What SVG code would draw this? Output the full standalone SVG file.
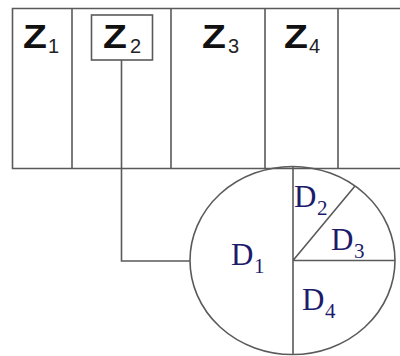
<svg xmlns="http://www.w3.org/2000/svg" width="400" height="356" viewBox="0 0 400 356">
<style>
.ln{stroke:#5a5a5a;stroke-width:1.6;fill:none}
.z{font-family:"Liberation Sans",Arial,sans-serif;font-weight:bold;font-size:34px;fill:#111}
.zs{font-family:"Liberation Sans",Arial,sans-serif;font-size:20px;fill:#222}
.d{font-family:"Liberation Serif","Times New Roman",serif;font-size:31px;fill:#1c1c6b}
.ds{font-family:"Liberation Serif","Times New Roman",serif;font-size:21px;fill:#1c1c6b}
</style>
<rect width="400" height="356" fill="#fff"/>
<g id="zones">
<path class="ln" d="M400 8.5H12.5V168.5H400"/>
<path class="ln" d="M72 8.5V168.5M171 8.5V168.5M265 8.5V168.5M338 8.5V168.5"/>
</g>
<g id="z1"><text class="z" transform="translate(23 48) scale(1.15 1)">Z</text><text class="zs" x="48" y="53">1</text></g>
<g id="z2"><rect class="ln" x="91.5" y="15" width="61" height="45"/><text class="z" transform="translate(103 48) scale(1.15 1)">Z</text><text class="zs" x="130" y="53">2</text></g>
<g id="z3"><text class="z" transform="translate(202 48) scale(1.15 1)">Z</text><text class="zs" x="228" y="53">3</text></g>
<g id="z4"><text class="z" transform="translate(284 48) scale(1.15 1)">Z</text><text class="zs" x="309" y="53">4</text></g>
<g id="connectors">
<path class="ln" d="M121.5 60V261H190"/>
</g>
<g id="disk">
<ellipse class="ln" cx="292.5" cy="260.5" rx="102.5" ry="94"/>
<path class="ln" d="M293 166.5V354.5M293 260.5H395M293 260.5L355 186"/>
<text class="d" x="231" y="265">D</text><text class="ds" x="254" y="273">1</text>
<text class="d" x="294" y="207">D</text><text class="ds" x="317" y="215">2</text>
<text class="d" x="331" y="250">D</text><text class="ds" x="354" y="258">3</text>
<text class="d" x="302" y="310">D</text><text class="ds" x="325" y="318">4</text>
</g>
</svg>
